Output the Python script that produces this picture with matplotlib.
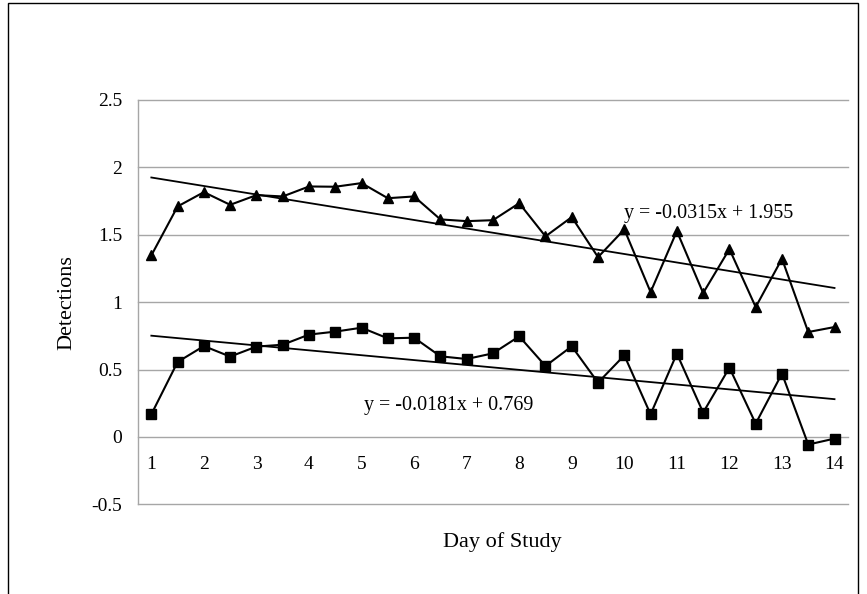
import matplotlib
matplotlib.use('Agg')
import matplotlib.pyplot as plt
import numpy as np
from matplotlib.patches import Rectangle

plt.rcParams['font.family'] = ['Liberation Serif', 'DejaVu Serif']

# ---- data ----
days = list(range(1, 15))
triangle_vals = [1.346, 1.709, 1.815, 1.721, 1.793, 1.783, 1.857, 1.855, 1.882,
                 1.770, 1.783, 1.613, 1.600, 1.607, 1.733, 1.487, 1.630, 1.333,
                 1.539, 1.074, 1.526, 1.067, 1.393, 0.963, 1.321, 0.778, 0.815]
square_vals = [0.168, 0.556, 0.674, 0.596, 0.670, 0.684, 0.759, 0.781, 0.810,
               0.731, 0.736, 0.598, 0.578, 0.620, 0.746, 0.526, 0.672, 0.403,
               0.605, 0.168, 0.618, 0.181, 0.514, 0.099, 0.470, -0.056, -0.012]
trend_slopes = [-0.0315, -0.0181]
trend_intercepts = [1.955, 0.769]
trend_labels = ['y = -0.0315x + 1.955', 'y = -0.0181x + 0.769']
y_ticks = [-0.5, 0, 0.5, 1, 1.5, 2, 2.5]
y_tick_labels = ['-0.5', '0', '0.5', '1', '1.5', '2', '2.5']

fig = plt.figure(figsize=(8.67, 5.94), dpi=100)
ax = fig.add_axes([0.1594, 0.1508, 0.8183, 0.6813])

n = len(triangle_vals)
x = np.arange(1, n + 1)

ax.plot(x, triangle_vals, color='black', lw=1.5, marker='^', ms=7.8,
        mec='black', mfc='black', zorder=3)
ax.plot(x, square_vals, color='black', lw=1.5, marker='s', ms=7.4,
        mec='black', mfc='black', zorder=3)

ends = x[[0, -1]]
for s, b in zip(trend_slopes, trend_intercepts):
    ax.plot(ends, s * ends + b, color='black', lw=1.3, zorder=2)

ax.text(19.0, 1.622, trend_labels[0], fontsize=14.4, ha='left', va='baseline')
ax.text(9.09, 0.198, trend_labels[1], fontsize=14.4, ha='left', va='baseline')

ax.set_xlim(0.5, n + 0.5)
ax.set_ylim(-0.5, 2.5)
ax.set_yticks(y_ticks)
ax.set_yticklabels(y_tick_labels)
ax.set_xticks(x[::2])
ax.set_xticklabels([str(d) for d in days])

ax.grid(axis='y', color='#a6a6a6', lw=1)
for gl in ax.get_ygridlines():
    gl.set_clip_on(False)
ax.set_axisbelow(True)
for sp in ['top', 'right']:
    ax.spines[sp].set_visible(False)
ax.spines['left'].set_color('#a6a6a6')
ax.spines['left'].set_linewidth(1)
ax.spines['bottom'].set_position(('data', 0))
ax.spines['bottom'].set_visible(False)

ax.tick_params(axis='both', length=0, labelsize=14)
ax.tick_params(axis='x', pad=14)
ax.tick_params(axis='y', pad=11.5)

ax.set_ylabel('Detections', fontsize=16)
ax.yaxis.label.set_va('center')
ax.yaxis.set_label_coords(-0.1004, 0.5)
ax.set_xlabel('Day of Study', fontsize=16)
ax.xaxis.label.set_va('center')
ax.xaxis.set_label_coords(0.5127, -0.0922)

fig.patches.append(Rectangle((8 / 867, -0.1), (858 - 8) / 867, 1.1 - 3 / 594,
                             transform=fig.transFigure, fill=False,
                             ec='black', lw=1))

fig.savefig('out.png', dpi=100)
